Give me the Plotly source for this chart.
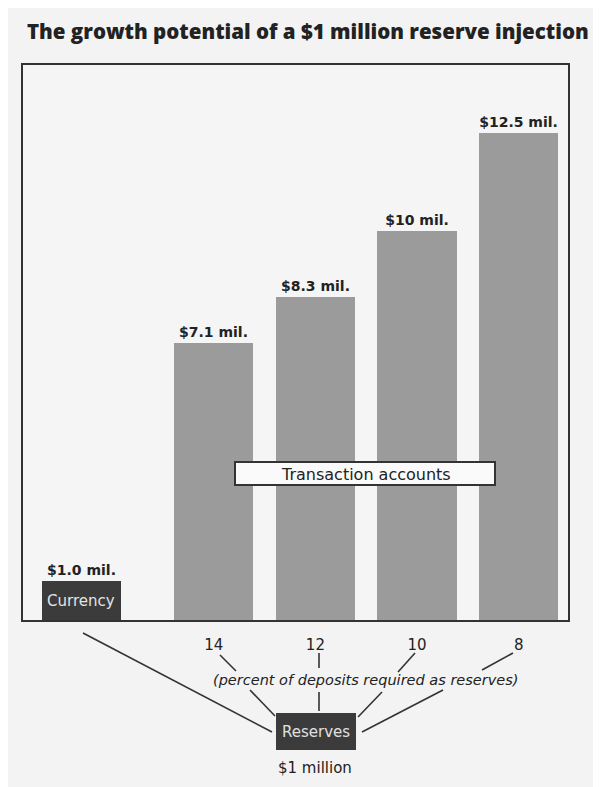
import plotly.graph_objects as go

# ---- data ----
categories = ["Currency", "14", "12", "10", "8"]
values = [1.0, 7.1, 8.3, 10.0, 12.5]
value_labels = ["$1.0 mil.", "$7.1 mil.", "$8.3 mil.", "$10 mil.", "$12.5 mil."]
reserve_ratio_labels = ["14", "12", "10", "8"]
title_text = "The growth potential of a $1 million reserve injection"

# ---- layout geometry (target screen pixels) ----
W, H = 601, 787
OFF = 8  # page body margin
L, R, T, B = 23, 568, 65, 620
pw, ph = R - L, B - T

def px(x):
    return (x - L) / pw

def py(y):
    return (B - y) / ph

# bar positions: currency separated from the deposit bars
xpos = [0.0] + [1.3 + i for i in range(len(categories) - 1)]
bar_colors = ["#3b3b3b"] + ["#9b9b9b"] * (len(categories) - 1)

SANS = "DejaVu Sans"
INK = "#222222"

fig = go.Figure()
fig.add_trace(go.Bar(
    x=xpos, y=values, width=0.78,
    marker=dict(color=bar_colors, line=dict(width=0)),
    text=value_labels, textposition="outside", cliponaxis=False,
    textfont=dict(family=SANS, size=14, color=INK, weight="bold"),
    hoverinfo="skip",
))

shapes = []
annotations = []

def note(x, y, text, size, color=INK, family=SANS, xanchor="center", weight="normal"):
    annotations.append(dict(x=px(x), y=py(y), xref="paper", yref="paper", text=text, showarrow=False,
                            xanchor=xanchor, yanchor="middle",
                            font=dict(family=family, size=size, color=color, weight=weight)))

# Title
note(25, 31, title_text, 20.5, family="Open Sans", xanchor="left", weight=800)

# Currency label inside dark bar
annotations.append(dict(x=xpos[0], y=values[0] / 2, xref="x", yref="y", text="Currency", showarrow=False,
                        yanchor="middle", font=dict(family=SANS, size=15, color="#e4e4e4")))

# Transaction accounts box
shapes.append(dict(type="rect", xref="paper", yref="paper", x0=px(235), x1=px(495), y0=py(462), y1=py(485),
                   fillcolor="#fafafa", line=dict(color="#333333", width=2)))
note(366, 474, "Transaction accounts", 16)

# Reserves box
shapes.append(dict(type="rect", xref="paper", yref="paper", x0=px(276), x1=px(356), y0=py(713), y1=py(750),
                   fillcolor="#3b3b3b", line=dict(width=0)))
note(316, 732, "Reserves", 15, color="#e0e0e0")
note(315, 768, "$1 million", 15)

# italic note
note(365, 680, "<i>(percent of deposits required as reserves)</i>", 14.5)

# connector lines
segs = [
    ((83, 633), (272, 732)),
    ((220, 655), (236, 671)), ((250, 690), (275, 716)),
    ((319, 653), (319, 668)), ((319, 692), (319, 711)),
    ((415, 653), (398, 672)), ((382, 692), (358, 717)),
    ((513, 653), (482, 670)), ((443, 690), (362, 732)),
]
for (x0, y0), (x1, y1) in segs:
    shapes.append(dict(type="line", xref="paper", yref="paper", x0=px(x0), y0=py(y0), x1=px(x1), y1=py(y1),
                       line=dict(color="#333333", width=1.6)))

fig.update_layout(
    width=W, height=H,
    margin=dict(l=L - OFF, r=W - R + OFF, t=T - OFF, b=H - B + OFF),
    paper_bgcolor="#f3f3f3", plot_bgcolor="#f5f5f5",
    showlegend=False, bargap=0,
    shapes=shapes, annotations=annotations,
    xaxis=dict(range=[-0.575, 4.784], tickvals=xpos[1:], ticktext=reserve_ratio_labels,
               showgrid=False, zeroline=False, showline=True, mirror=True, linecolor="#333333", linewidth=2,
               ticks="", ticklabelstandoff=10,
               tickfont=dict(family=SANS, size=15, color=INK), fixedrange=True),
    yaxis=dict(range=[0, 14.25], showgrid=False, zeroline=False, showticklabels=False, ticks="",
               showline=True, mirror=True, linecolor="#333333", linewidth=2, fixedrange=True),
)

fig.write_html("out.html")
